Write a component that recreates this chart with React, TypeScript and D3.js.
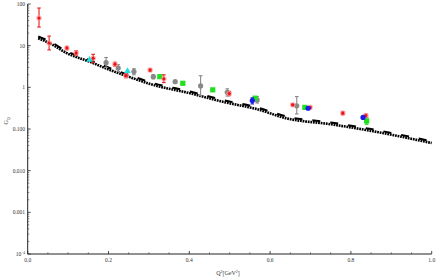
import React from "react";
import * as d3 from "d3";

const yTickValues = [100, 10, 1, 0.1, 0.01, 0.001, 0.0001];
const yTickLabels = ["100", "10", "1", "0.100", "0.010", "0.001", "10"];
const xTickValues = [0, 0.2, 0.4, 0.6, 0.8, 1.0];
const xTickLabels = ["0.0", "0.2", "0.4", "0.6", "0.8", "1.0"];

const curveQ = [0.026, 0.055, 0.097, 0.154, 0.204, 0.261, 0.303, 0.402, 0.483, 0.567, 0.641, 0.75, 0.85, 1.0];
const curveG = [15, 11.4, 6.6, 4.1, 2.6, 1.65, 1.2, 0.72, 0.45, 0.3, 0.18, 0.13, 0.09, 0.046];

const redQ = [0.028, 0.053, 0.097, 0.12, 0.162, 0.216, 0.243, 0.303, 0.337, 0.499, 0.656, 0.699, 0.78, 0.837];
const redG = [46, 11.6, 8.8, 6.7, 5.0, 3.6, 1.9, 2.6, 1.6, 0.71, 0.38, 0.33, 0.24, 0.21];
const redLo = [28, 7.9, 8.0, 5.8, 3.9, 3.2, 1.7, 2.4, 1.3, 0.63, 0.36, 0.31, 0.22, 0.19];
const redHi = [80, 17, 9.6, 7.6, 6.2, 4.0, 2.2, 2.8, 2.0, 0.8, 0.4, 0.35, 0.26, 0.23];

const grayQ = [0.194, 0.224, 0.263, 0.311, 0.365, 0.428, 0.494, 0.568, 0.666];
const grayG = [3.9, 2.9, 2.4, 1.8, 1.37, 1.08, 0.76, 0.5, 0.36];
const grayLo = [3.0, 2.4, 2.0, 1.6, 1.3, 0.63, 0.62, 0.42, 0.23];
const grayHi = [5.2, 3.5, 2.8, 2.0, 1.45, 1.9, 0.92, 0.6, 0.6];

const greenQ = [0.327, 0.384, 0.458, 0.563, 0.686, 0.839];
const greenG = [1.8, 1.25, 0.87, 0.55, 0.33, 0.156];
const greenLo = [1.8, 1.25, 0.87, 0.55, 0.33, 0.13];
const greenHi = [1.8, 1.25, 0.87, 0.55, 0.33, 0.19];

const blueQ = [0.556, 0.694, 0.83];
const blueG = [0.48, 0.315, 0.19];
const blueLo = [0.4, 0.315, 0.19];
const blueHi = [0.56, 0.315, 0.19];

const cyanQ = [0.153, 0.247];
const cyanG = [4.7, 2.5];

const W = 436;
const H = 279;

export default function App() {
  const x = d3.scaleLinear().domain([0, 1]).range([27.7, 431.7]);
  const y = d3.scaleLog().domain([0.0001, 100]).range([254, 4]);

  const line = d3
    .line<number>()
    .x((_, i) => x(curveQ[i]))
    .y((d) => y(d))
    .curve(d3.curveMonotoneX);
  const curvePath = line(curveG) || "";

  const minorX = d3.range(0, 1.0001, 0.05).filter((v) => Math.abs(Math.round(v * 5) - v * 5) > 1e-6);
  const minorY: number[] = [];
  for (let e = -4; e < 2; e++) {
    for (let k = 2; k <= 9; k++) minorY.push(k * Math.pow(10, e));
  }

  const font = "'Liberation Serif', 'DejaVu Serif', serif";
  const axisColor = "#222";

  const errBar = (q: number, lo: number, hi: number, color: string, key: string) => {
    if (Math.abs(hi - lo) < 1e-9) return null;
    const cx = x(q);
    return (
      <g key={key} stroke={color} strokeWidth={1.1}>
        <line x1={cx} x2={cx} y1={y(lo)} y2={y(hi)} />
        <line x1={cx - 1.8} x2={cx + 1.8} y1={y(lo)} y2={y(lo)} />
        <line x1={cx - 1.8} x2={cx + 1.8} y1={y(hi)} y2={y(hi)} />
      </g>
    );
  };

  return (
    <svg width={W} height={H} style={{ position: "absolute", left: 0, top: 0 }}>
      <rect width={W} height={H} fill="#fff" />
      {/* curve */}
      <path d={curvePath} fill="none" stroke="#000" strokeWidth={2.6} strokeDasharray="1.8 0.8" />
      <path d={curvePath} fill="none" stroke="#000" strokeWidth={2} strokeDasharray="8 10" transform="translate(0,-1.8)" />

      {/* gray */}
      {grayQ.map((q, i) => errBar(q, grayLo[i], grayHi[i], "#888", "ge" + i))}
      {grayQ.map((q, i) => (
        <circle key={"g" + i} cx={x(q)} cy={y(grayG[i])} r={2.6} fill="#888" />
      ))}
      {/* green */}
      {greenQ.map((q, i) => errBar(q, greenLo[i], greenHi[i], "#1ed21e", "gre" + i))}
      {greenQ.map((q, i) => (
        <rect key={"gr" + i} x={x(q) - 2.6} y={y(greenG[i]) - 2.6} width={5.2} height={5.2} fill="#1ee01e" />
      ))}
      {/* red */}
      {redQ.map((q, i) => errBar(q, redLo[i], redHi[i], "#e61e1e", "re" + i))}
      {redQ.map((q, i) => (
        <g key={"r" + i}>
          <circle cx={x(q)} cy={y(redG[i])} r={2.8} fill="#ff9a9a" opacity={0.7} />
          <circle cx={x(q)} cy={y(redG[i])} r={1.6} fill="#ee1111" />
        </g>
      ))}
      {/* blue */}
      {blueQ.map((q, i) => errBar(q, blueLo[i], blueHi[i], "#1a1aee", "be" + i))}
      {blueQ.map((q, i) => (
        <circle key={"b" + i} cx={x(q)} cy={y(blueG[i])} r={2.6} fill="#1a1aee" />
      ))}
      {/* cyan */}
      {cyanQ.map((q, i) => {
        const cx = x(q);
        const cy = y(cyanG[i]);
        return (
          <path key={"c" + i} d={`M${cx},${cy - 3.5}L${cx + 3.3},${cy + 2.3}L${cx - 3.3},${cy + 2.3}Z`} fill="#22dede" />
        );
      })}

      {/* axes */}
      <line x1={x(0)} x2={x(0)} y1={y(100)} y2={y(0.0001)} stroke={axisColor} strokeWidth={1} />
      <line x1={x(0)} x2={x(1)} y1={y(0.0001)} y2={y(0.0001)} stroke={axisColor} strokeWidth={1} />
      {xTickValues.map((v, i) => (
        <g key={"xt" + i}>
          <line x1={x(v)} x2={x(v)} y1={y(0.0001)} y2={y(0.0001) - 3} stroke={axisColor} strokeWidth={0.8} />
          <text x={x(v)} y={262} fontSize={5.5} fontFamily={font} textAnchor="middle" fill="#333">
            {xTickLabels[i]}
          </text>
        </g>
      ))}
      {minorX.map((v, i) => (
        <line key={"xm" + i} x1={x(v)} x2={x(v)} y1={y(0.0001)} y2={y(0.0001) - 1.6} stroke={axisColor} strokeWidth={0.6} />
      ))}
      {yTickValues.map((v, i) => (
        <g key={"yt" + i}>
          <line x1={x(0)} x2={x(0) + 3} y1={y(v)} y2={y(v)} stroke={axisColor} strokeWidth={0.8} />
          <text x={25} y={y(v) + 1.9} fontSize={5.5} fontFamily={font} textAnchor="end" fill="#333">
            {yTickLabels[i]}
            {i === 6 ? (
              <tspan fontSize={3.6} dy={-2}>
                −4
              </tspan>
            ) : null}
          </text>
        </g>
      ))}
      {minorY.map((v, i) => (
        <line key={"ym" + i} x1={x(0)} x2={x(0) + 1.6} y1={y(v)} y2={y(v)} stroke={axisColor} strokeWidth={0.5} />
      ))}

      {/* labels */}
      <text x={228} y={275} fontSize={6} fontFamily={font} textAnchor="middle" fill="#333">
        Q
        <tspan fontSize={4} dy={-2.2}>2</tspan>
        <tspan dy={2.2}>[GeV</tspan>
        <tspan fontSize={4} dy={-2.2}>2</tspan>
        <tspan dy={2.2}>]</tspan>
      </text>
      <text transform="translate(8,121) rotate(-90)" fontSize={6} fontFamily={font} textAnchor="middle" fill="#333">
        G
        <tspan fontSize={4} dy={1.5}>Q</tspan>
      </text>
    </svg>
  );
}
